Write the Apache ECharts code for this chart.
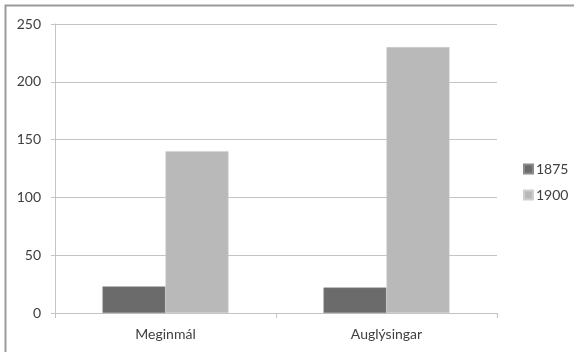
<!DOCTYPE html>
<html><head><meta charset="utf-8">
<script src="https://cdn.jsdelivr.net/npm/echarts@6/dist/echarts.min.js"></script>
<style>html,body{margin:0;padding:0;background:#fff}#c{width:574px;height:352px}</style>
</head><body><div id="c"></div>
<script>
const categories = ['Meginmál', 'Auglýsingar'];
const seriesNames = ['1875', '1900'];
const values1875 = [23, 22];
const values1900 = [140, 230];
const yTicks = [0, 50, 100, 150, 200, 250];

const chart = echarts.init(document.getElementById('c'));
const font = 'Lato, "Liberation Sans", sans-serif';
chart.setOption({
  animation: false,
  graphic: [{
    type: 'rect', shape: {x: 5.5, y: 5.5, width: 600, height: 400},
    style: {fill: 'none', stroke: '#9a9a9a', lineWidth: 2}
  }],
  grid: {left: 55, right: 77, top: 24, bottom: 39},
  legend: {
    orient: 'vertical', left: 518, top: 157,
    itemWidth: 9, itemHeight: 9, itemGap: 12,
    icon: 'rect',
    textStyle: {fontFamily: font, fontSize: 14, color: '#404040', padding: [0,0,0,-2]},
    data: seriesNames
  },
  xAxis: {
    type: 'category', data: categories,
    axisLine: {lineStyle: {color: '#c4c4c4', width: 1}},
    axisTick: {show: true, length: 5, lineStyle: {color: '#c4c4c4'}},
    axisLabel: {fontFamily: font, fontSize: 14, color: '#404040', margin: 14}
  },
  yAxis: {
    type: 'value', min: yTicks[0], max: yTicks[yTicks.length-1], interval: 50,
    axisLine: {show: true, lineStyle: {color: '#c4c4c4', width: 1}},
    axisTick: {show: true, length: 4, lineStyle: {color: '#c4c4c4'}},
    splitLine: {lineStyle: {color: '#c4c4c4', width: 1}},
    axisLabel: {fontFamily: font, fontSize: 14, color: '#404040', margin: 14}
  },
  series: [
    {name: seriesNames[0], type: 'bar', data: values1875, barWidth: 63, barGap: '0%',
     itemStyle: {color: '#6b6b6b', borderColor: '#8a8a8a', borderWidth: 0.5}},
    {name: seriesNames[1], type: 'bar', data: values1900, barWidth: 63,
     itemStyle: {color: '#b9b9b9', borderColor: '#cfcfcf', borderWidth: 0.5}}
  ]
});
</script></body></html>
